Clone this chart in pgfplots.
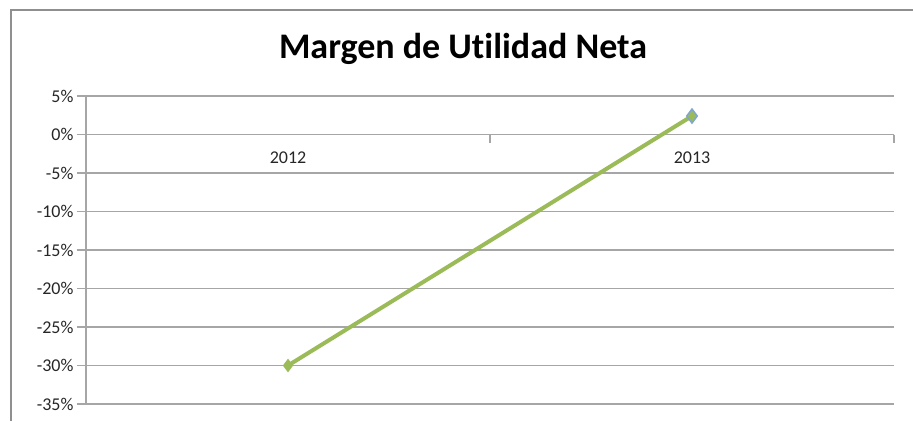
\documentclass[border=0pt]{standalone}
\usepackage{fontspec}
\setmainfont{Carlito}[Ligatures=NoCommon]
\usepackage{pgfplots}
\pgfplotsset{compat=1.18}
\definecolor{linegreen}{HTML}{9BBB59}
\definecolor{gridgray}{HTML}{A6A6A6}
\definecolor{framegray}{HTML}{8F8F8F}
\definecolor{markblue}{HTML}{7FA6CE}
\begin{document}
\begin{tikzpicture}
\useasboundingbox (0,0) rectangle (913pt,421pt);
\draw[framegray, line width=2.2pt] (11pt,0pt) -- (11pt,411pt);
\draw[framegray, line width=2.2pt] (10pt,411pt) -- (913pt,411pt);
\node[font=\bfseries\fontsize{36}{40}\selectfont] at (463pt,372pt) {Margen de Utilidad Neta};
\begin{axis}[
  at={(86pt,17pt)}, anchor=south west,
  scale only axis, width=808pt, height=308pt,
  xmin=0, xmax=2, ymin=-35, ymax=5,
  axis x line=none, axis y line*=left,
  ytick={-35,-30,...,5},
  yticklabels={-35\%,-30\%,-25\%,-20\%,-15\%,-10\%,-5\%,0\%,5\%},
  ymajorgrids,
  grid style={gridgray, line width=1.3pt},
  axis line style={gridgray, line width=1.3pt},
  y axis line style={gridgray, line width=1.3pt},
  tick style={gridgray, line width=1.3pt},
  tick align=outside, major tick length=9pt,
  yticklabel style={font=\fontsize{18}{20}\selectfont, text=black!85},
  /pgf/number format/assume math mode=true,
  clip=false,
]
\draw[gridgray, line width=1.3pt] (axis cs:0,0) -- ([yshift=-8pt]axis cs:0,0);
\draw[gridgray, line width=1.3pt] (axis cs:1,0) -- ([yshift=-8pt]axis cs:1,0);
\draw[gridgray, line width=1.3pt] (axis cs:2,0) -- ([yshift=-8pt]axis cs:2,0);
\node[anchor=north, font=\fontsize{18}{20}\selectfont, text=black!85, yshift=-14pt] at (axis cs:0.5,0) {2012};
\node[anchor=north, font=\fontsize{18}{20}\selectfont, text=black!85, yshift=-14pt] at (axis cs:1.5,0) {2013};
\addplot[linegreen, line width=4pt, mark=diamond*, mark size=6pt, mark options={fill=linegreen, draw=linegreen, line width=1pt}]
  coordinates {(0.5,-30) (1.5,2.4)};
\addplot[only marks, mark=diamond*, mark size=7pt, mark options={fill=linegreen, draw=markblue, line width=1.5pt}]
  coordinates {(1.5,2.4)};
\end{axis}
\end{tikzpicture}
\end{document}
